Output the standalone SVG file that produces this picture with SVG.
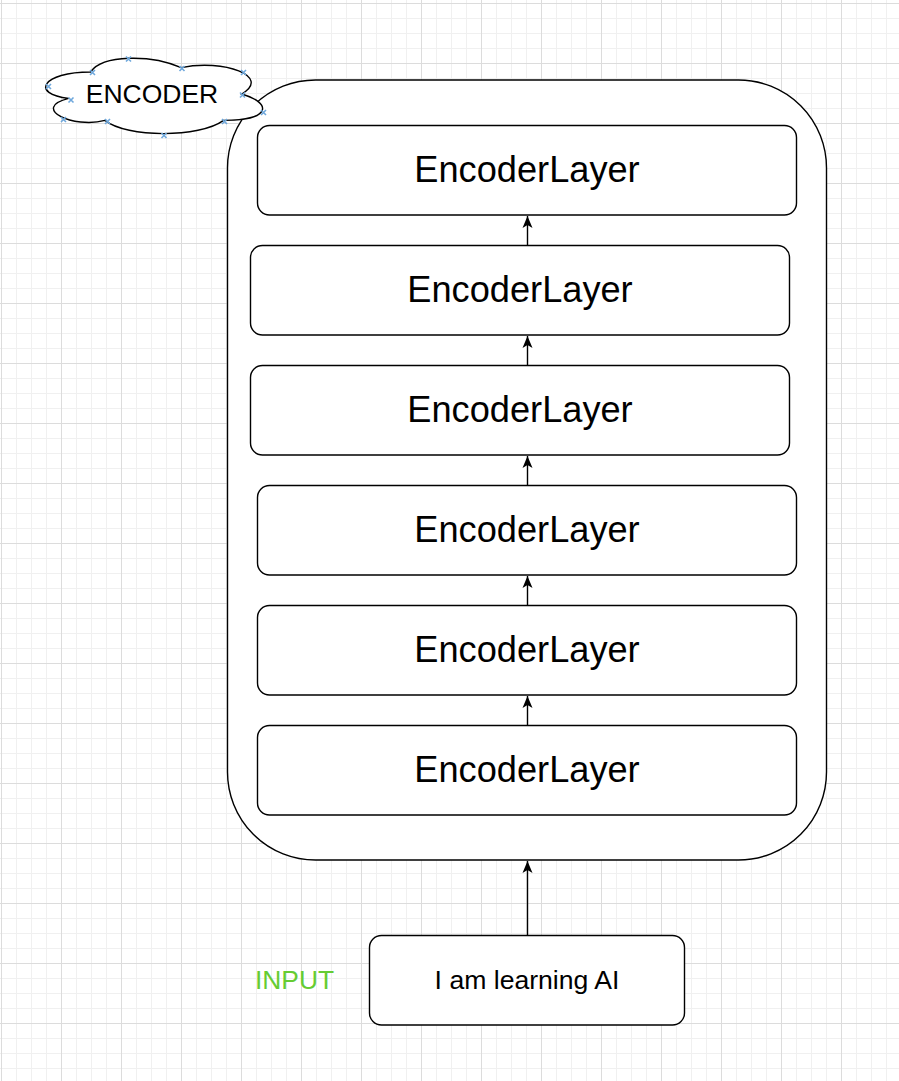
<svg xmlns="http://www.w3.org/2000/svg" width="899" height="1081" viewBox="0 0 899 1081">
<style>
.box{fill:#ffffff;stroke:#000000;stroke-width:1.4}
.lbl{font-family:"Liberation Sans",Arial,sans-serif;fill:#000000;text-anchor:middle}
.big{font-size:36.2px}
.edge{stroke:#000000;stroke-width:1.4;fill:none}
.pt{stroke:#6fa8dc;stroke-width:1.6;fill:none}
</style>
<defs>
<pattern id="grid" patternUnits="userSpaceOnUse" x="1" y="3" width="60" height="60">
<rect x="0" y="0" width="60" height="60" fill="#ffffff"/>
<rect x="15" y="0" width="1" height="60" fill="#f0f0f0"/>
<rect x="30" y="0" width="1" height="60" fill="#f0f0f0"/>
<rect x="45" y="0" width="1" height="60" fill="#f0f0f0"/>
<rect x="0" y="15" width="60" height="1" fill="#f0f0f0"/>
<rect x="0" y="30" width="60" height="1" fill="#f0f0f0"/>
<rect x="0" y="45" width="60" height="1" fill="#f0f0f0"/>
<rect x="0" y="0" width="1" height="60" fill="#dcdcdc"/>
<rect x="0" y="0" width="60" height="1" fill="#dcdcdc"/>
</pattern>
<marker id="arr" viewBox="0 0 12 12" refX="12" refY="6" markerUnits="userSpaceOnUse" markerWidth="12" markerHeight="12" orient="auto">
<path d="M0,1 L12,6 L0,11 L3,6 Z" fill="#000000"/>
</marker>
</defs>
<rect x="0" y="0" width="899" height="1081" fill="url(#grid)"/>

<g id="encoder-container">
<rect class="box" x="227.5" y="80" width="599" height="780" rx="88" ry="88"/>
</g>

<g id="encoder-cloud">
<path class="box" d="M90.5,72 C42.1,72 30,94 68.7,98.4 C30,108.1 73.6,129.2 105,120.4 C126.8,138 199.4,138 223.6,120.4 C272,120.4 272,102.8 241.75,94 C272,76.4 223.6,58.8 181.25,67.6 C151,54.4 102.6,54.4 90.5,72 Z"/>
<text class="lbl" x="152" y="103" font-size="26.5">ENCODER</text>
<g class="pt">
<path d="M46,84 l5,5 M51,84 l-5,5"/>
<path d="M68.5,97.5 l5,5 M73.5,97.5 l-5,5"/>
<path d="M61,117 l5,5 M66,117 l-5,5"/>
<path d="M90,70 l5,5 M95,70 l-5,5"/>
<path d="M105,119 l5,5 M110,119 l-5,5"/>
<path d="M126,56.5 l5,5 M131,56.5 l-5,5"/>
<path d="M161.5,133 l5,5 M166.5,133 l-5,5"/>
<path d="M179.5,66 l5,5 M184.5,66 l-5,5"/>
<path d="M222,119 l5,5 M227,119 l-5,5"/>
<path d="M241,70 l5,5 M246,70 l-5,5"/>
<path d="M240,92.5 l5,5 M245,92.5 l-5,5"/>
<path d="M261,110 l5,5 M266,110 l-5,5"/>
</g>
</g>

<g id="layer1">
<rect class="box" x="257.5" y="125.5" width="539" height="89.5" rx="12" ry="12"/>
<text class="lbl big" x="527" y="182">EncoderLayer</text>
</g>
<g id="layer2">
<rect class="box" x="250.5" y="245.5" width="539" height="89.5" rx="12" ry="12"/>
<text class="lbl big" x="520" y="302">EncoderLayer</text>
</g>
<g id="layer3">
<rect class="box" x="250.5" y="365.5" width="539" height="89.5" rx="12" ry="12"/>
<text class="lbl big" x="520" y="422">EncoderLayer</text>
</g>
<g id="layer4">
<rect class="box" x="257.5" y="485.5" width="539" height="89.5" rx="12" ry="12"/>
<text class="lbl big" x="527" y="542">EncoderLayer</text>
</g>
<g id="layer5">
<rect class="box" x="257.5" y="605.5" width="539" height="89.5" rx="12" ry="12"/>
<text class="lbl big" x="527" y="662">EncoderLayer</text>
</g>
<g id="layer6">
<rect class="box" x="257.5" y="725.5" width="539" height="89.5" rx="12" ry="12"/>
<text class="lbl big" x="527" y="782">EncoderLayer</text>
</g>

<g id="input">
<rect class="box" x="369.5" y="935.5" width="315" height="89.5" rx="12" ry="12"/>
<text class="lbl" x="527" y="989" font-size="26.6">I am learning AI</text>
</g>

<g id="input-label">
<text x="294.5" y="989" font-family="Liberation Sans, Arial, sans-serif" font-size="26.4" fill="#66cc33" text-anchor="middle">INPUT</text>
</g>

<g id="connectors">
<line class="edge" x1="527.5" y1="245" x2="527.5" y2="216" marker-end="url(#arr)"/>
<line class="edge" x1="527.5" y1="365" x2="527.5" y2="336" marker-end="url(#arr)"/>
<line class="edge" x1="527.5" y1="485" x2="527.5" y2="456" marker-end="url(#arr)"/>
<line class="edge" x1="527.5" y1="605" x2="527.5" y2="576" marker-end="url(#arr)"/>
<line class="edge" x1="527.5" y1="725" x2="527.5" y2="696" marker-end="url(#arr)"/>
<line class="edge" x1="527.5" y1="935" x2="527.5" y2="861" marker-end="url(#arr)"/>
</g>
</svg>
